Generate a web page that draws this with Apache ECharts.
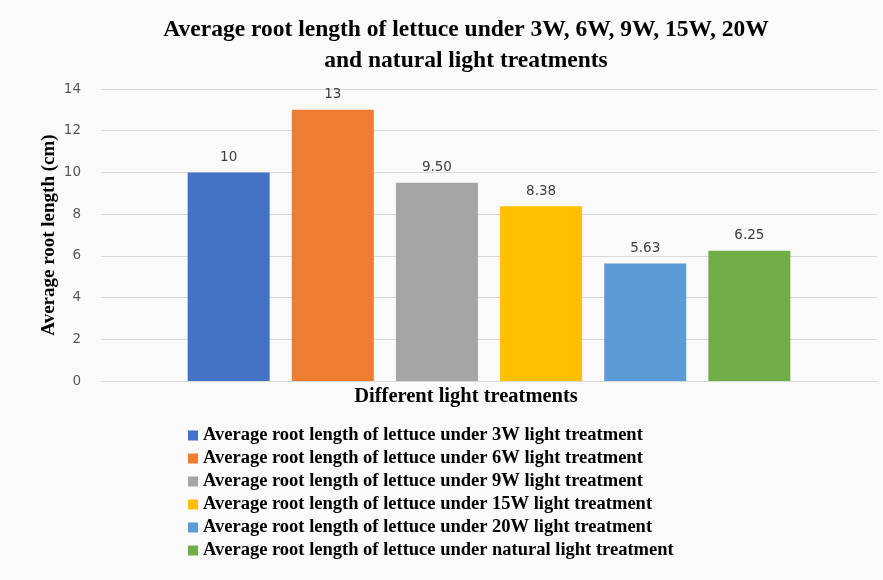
<!DOCTYPE html>
<html>
<head>
<meta charset="utf-8">
<script src="https://cdn.jsdelivr.net/npm/echarts@6/dist/echarts.min.js"></script>
<style>
  html, body { margin: 0; padding: 0; background: #fafafa; }
  #chart { width: 883px; height: 580px; }
</style>
</head>
<body>
<div id="chart"></div>
<script>
// data
var categories = ["Different light treatments"];
var seriesNames = [
  "Average root length of lettuce under 3W light treatment",
  "Average root length of lettuce under 6W light treatment",
  "Average root length of lettuce under 9W light treatment",
  "Average root length of lettuce under 15W light treatment",
  "Average root length of lettuce under 20W light treatment",
  "Average root length of lettuce under natural light treatment"
];
var values = [10, 13, 9.5, 8.38, 5.63, 6.25];
var valueLabels = ["10", "13", "9.50", "8.38", "5.63", "6.25"];
var yTicks = [0, 2, 4, 6, 8, 10, 12, 14];

var colors = ["#4472C4", "#ED7D31", "#A5A5A5", "#FFC000", "#5B9BD5", "#70AD47"];
var serif = "'Liberation Serif', 'Times New Roman', serif";

var myChart = echarts.init(document.getElementById("chart"));

var series = seriesNames.map(function (name, i) {
  return {
    name: name,
    type: "bar",
    data: [values[i]],
    barWidth: 82,
    barGap: "27%",
    itemStyle: { color: colors[i] },
    label: {
      show: true,
      position: "top",
      distance: 8,
      formatter: valueLabels[i],
      fontFamily: "'DejaVu Sans', sans-serif",
      fontSize: 13.5,
      color: "#404040"
    }
  };
});

var option = {
  backgroundColor: "#fafafa",
  color: colors,
  title: {
    text: "Average root length of lettuce under 3W, 6W, 9W, 15W, 20W\nand natural light treatments",
    left: 461,
    top: 9,
    textAlign: "center",
    textStyle: {
      fontFamily: serif,
      fontWeight: "bold",
      fontSize: 23.5,
      lineHeight: 31,
      color: "#000"
    }
  },
  legend: {
    orient: "vertical",
    left: 183,
    top: 421,
    itemWidth: 10,
    itemHeight: 10,
    itemGap: 4,
    icon: "rect",
    data: seriesNames,
    textStyle: {
      fontFamily: serif,
      fontWeight: "bold",
      fontSize: 18.5,
      color: "#000"
    }
  },
  grid: {
    left: 101,
    right: 6,
    top: 89,
    bottom: 199
  },
  xAxis: {
    type: "category",
    data: categories,
    axisLine: { lineStyle: { color: "#d9d9d9" } },
    axisTick: { show: false },
    axisLabel: { show: false },
    name: "Different light treatments",
    nameLocation: "middle",
    nameGap: 5,
    nameTextStyle: {
      fontFamily: serif,
      fontWeight: "bold",
      fontSize: 20.5,
      color: "#000",
      verticalAlign: "top",
      padding: [0, 46, 0, 0]
    }
  },
  yAxis: {
    type: "value",
    min: yTicks[0],
    max: yTicks[yTicks.length - 1],
    interval: 2,
    axisLine: { show: false },
    axisTick: { show: false },
    axisLabel: {
      margin: 20,
      fontFamily: "'DejaVu Sans', sans-serif",
      fontSize: 13.5,
      color: "#595959"
    },
    splitLine: { lineStyle: { color: "#d9d9d9" } },
    name: "Average root length (cm)",
    nameLocation: "middle",
    nameGap: 42,
    nameMoveOverlap: false,
    nameTextStyle: {
      fontFamily: serif,
      fontWeight: "bold",
      fontSize: 19,
      color: "#000"
    }
  },
  series: series
};

myChart.setOption(option);
</script>
</body>
</html>
